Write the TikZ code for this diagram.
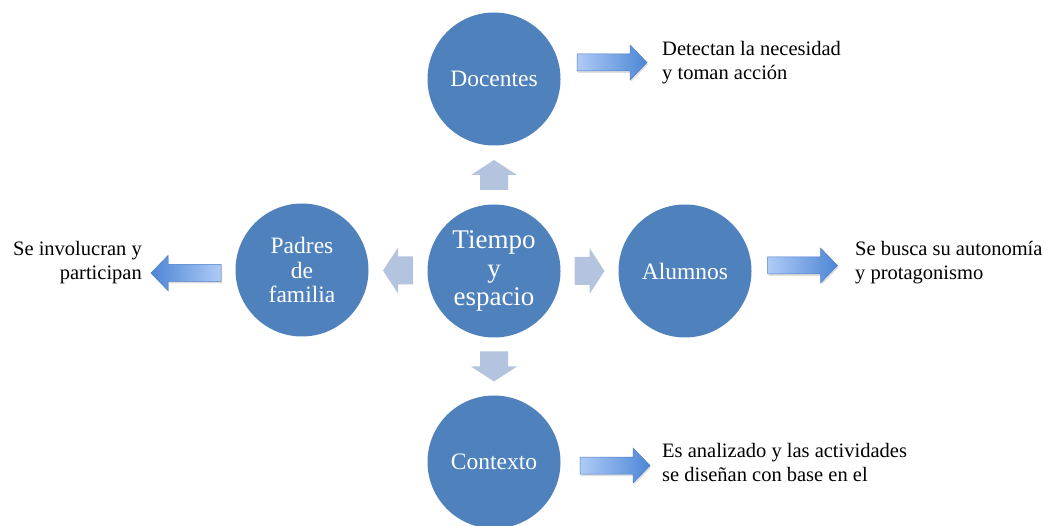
\documentclass[tikz,border=0pt]{standalone}
\usepackage{fontspec}
\setmainfont{Liberation Serif}
\usetikzlibrary{calc,shadows}
\definecolor{circblue}{HTML}{4F81BD}
\definecolor{lightarr}{HTML}{B4C3DE}
\definecolor{gradlight}{HTML}{AFCBF6}
\definecolor{graddark}{HTML}{4D86D6}
\definecolor{gradedge}{HTML}{4A7EC6}
\tikzset{
  circ/.style={circle, fill=circblue, minimum size=133pt, inner sep=0pt, text=white,
    font=\fontsize{23.5}{24.5}\selectfont, align=center},
  bigcirc/.style={circ, font=\fontsize{27}{28.5}\selectfont},
  lbl/.style={inner sep=0pt, font=\fontsize{20.5}{24}\selectfont, text=black},
  garrowstyle/.style={draw=gradedge, line width=0.5pt,
    drop shadow={opacity=0.25, shadow xshift=1pt, shadow yshift=-2pt}},
  lightarrow/.pic={\fill[lightarr] (-15,-14) -- (0,-14) -- (0,-23) -- (15,0) -- (0,23) -- (0,14) -- (-15,14) -- cycle;},
  garrowR/.pic={\path[garrowstyle, left color=gradlight, right color=graddark]
    (-35,-8.5) -- (18,-8.5) -- (18,-17.5) -- (35,0) -- (18,17.5) -- (18,8.5) -- (-35,8.5) -- cycle;},
  garrowL/.pic={\path[garrowstyle, left color=graddark, right color=gradlight]
    (35,-8.5) -- (-18,-8.5) -- (-18,-17.5) -- (-35,0) -- (-18,17.5) -- (-18,8.5) -- (35,8.5) -- cycle;}
}
\begin{document}
\begin{tikzpicture}[x=1pt, y=1pt]
\useasboundingbox (0,0) rectangle (1044,525);
% circles
\node[bigcirc] (T) at (494,254) {Tiempo\\y\\espacio};
\node[circ] (D) at (494,446) {Docentes};
\node[circ] (P) at (302,255) {Padres\\de\\familia};
\node[circ] (A) at (685,254) {Alumnos};
\node[circ] (C) at (494,63) {Contexto};
% light block arrows between centre and outer circles
\pic[rotate=90]  at ($(T.north)!0.5!(D.south)$) {lightarrow};
\pic[rotate=-90] at ($(T.south)!0.5!(C.north)$) {lightarrow};
\pic[rotate=180] at ($(T.west)!0.5!(P.east)$) {lightarrow};
\pic             at ($(T.east)!0.5!(A.west)$) {lightarrow};
% text labels
\node[lbl, anchor=north west, align=left] (tD) at (662,484) {Detectan la necesidad\\y toman acción};
\node[lbl, anchor=north east, align=right] (tP) at (142,284) {Se involucran y\\participan};
\node[lbl, anchor=north west, align=left] (tA) at (855,284) {Se busca su autonomía\\y protagonismo};
\node[lbl, anchor=north west, align=left] (tC) at (662,82) {Es analizado y las actividades\\se diseñan con base en el};
% gradient arrows
\pic at (612,462.5) {garrowR};
\pic at (802.5,259.5) {garrowR};
\pic at (186,252) {garrowL};
\pic at (615,59.5) {garrowR};
\end{tikzpicture}
\end{document}
